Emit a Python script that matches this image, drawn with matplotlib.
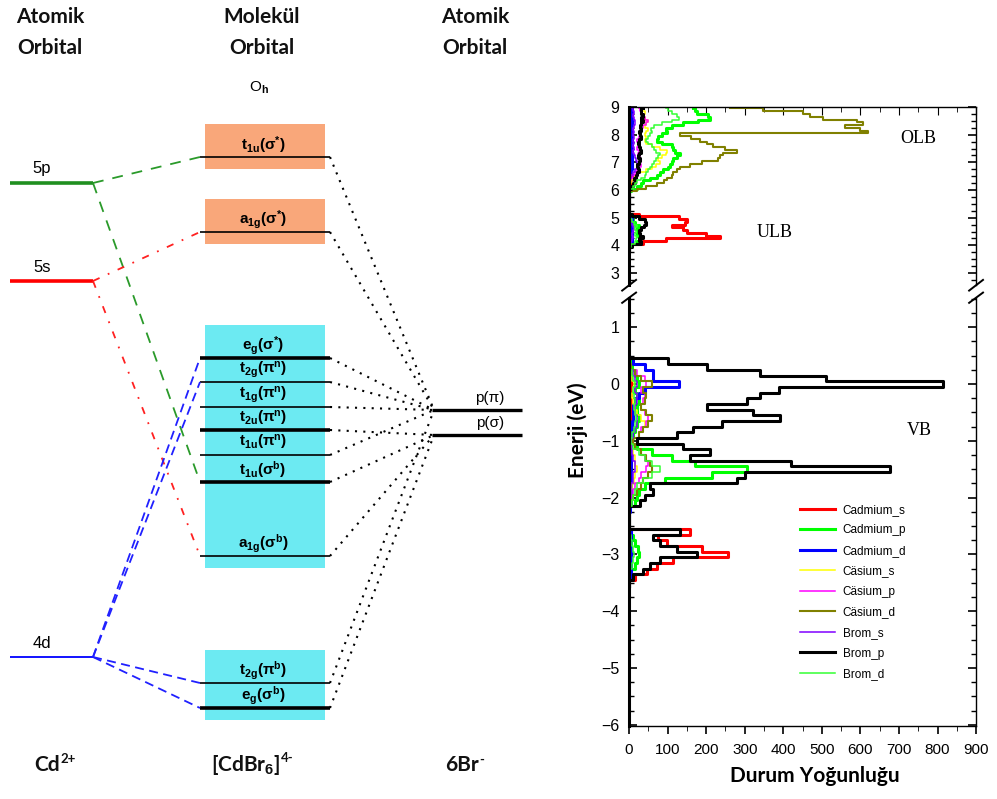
import numpy as np
import matplotlib
matplotlib.use('Agg')
import matplotlib.pyplot as plt
from matplotlib.patches import Rectangle
from matplotlib.ticker import MultipleLocator

plt.rcParams['mathtext.fontset'] = 'custom'
plt.rcParams['mathtext.rm'] = 'Liberation Sans'
plt.rcParams['mathtext.bf'] = 'Liberation Sans:bold'
plt.rcParams['mathtext.it'] = 'Liberation Sans:italic'

# ---------------- MO diagram (schematic levels, y grows downwards) ----------------
ao_names = ['5p', '5s', '4d']
ao_y = [183, 281, 657]
ao_colors = ['#1f8f1f', '#ff0000', '#0000ff']

mo_labels = [r't$_{\mathbf{1u}}$(σ$^{\mathbf{*}}$)', r'a$_{\mathbf{1g}}$(σ$^{\mathbf{*}}$)',
             r'e$_{\mathbf{g}}$(σ$^{\mathbf{*}}$)', r't$_{\mathbf{2g}}$(π$^{\mathbf{n}}$)',
             r't$_{\mathbf{1g}}$(π$^{\mathbf{n}}$)', r't$_{\mathbf{2u}}$(π$^{\mathbf{n}}$)',
             r't$_{\mathbf{1u}}$(π$^{\mathbf{n}}$)', r't$_{\mathbf{1u}}$(σ$^{\mathbf{b}}$)',
             r'a$_{\mathbf{1g}}$(σ$^{\mathbf{b}}$)', r't$_{\mathbf{2g}}$(π$^{\mathbf{b}}$)',
             r'e$_{\mathbf{g}}$(σ$^{\mathbf{b}}$)']
mo_y = [157, 232, 358, 382, 407, 430, 455, 482, 556, 683, 708]
mo_thick = [False, False, True, False, False, True, False, True, False, False, True]
mo_to_lig = [0, 0, 0, 0, 0, 1, 0, 1, 1, 0, 1]

lig_names = ['p(π)', 'p(σ)']
lig_y = [410, 435]

# metal AO -> MO correlations
ao_links = [(0, 0), (0, 7), (1, 1), (1, 8), (2, 2), (2, 3), (2, 9), (2, 10)]
# shaded groups of MOs (first, last, colour)
mo_boxes = [(0, 0, '#f9a77a'), (1, 1, '#f9a77a'), (2, 8, '#6ceaf2'), (9, 10, '#6ceaf2')]

# bottom species labels: (base, superscript)
species = [('Cd', '2+'), (r'[CdBr$_{\mathbf{6}}$]', '4-'), ('6Br', '-')]

# ---------------- DOS data (lower bin edges, 0.1 eV bins) ----------------
E_up = np.round(np.arange(3.85, 9.0, 0.1), 2)
E_lo = np.round(np.arange(-3.55, 0.5, 0.1), 2)

cd_s_up = [0, 5, 35, 95, 235, 200, 150, 140, 110, 145,
           150, 130, 25, 0, 0, 0, 0, 0, 0, 0,
           0, 0, 2, 3, 3, 4, 3, 4, 5, 4,
           5, 4, 5, 4, 3, 4, 5, 4, 3, 4,
           5, 4, 3, 4, 5, 4, 3, 4, 5, 4,
           3, 4]
cd_p_up = [0, 5, 20, 25, 30, 20, 25, 20, 25, 15,
           10, 5, 0, 0, 0, 0, 0, 0, 0, 0,
           0, 5, 20, 30, 36, 55, 72, 80, 88, 100,
           106, 110, 114, 125, 132, 120, 114, 110, 85, 72,
           75, 85, 98, 95, 110, 140, 180, 210, 205, 175,
           170, 166]
cd_d_up = [0, 6, 8, 8, 8, 8, 8, 8, 8, 8,
           8, 8, 0, 0, 0, 0, 0, 0, 0, 0,
           0, 0, 0, 0, 0, 0, 0, 0, 4, 8,
           8, 8, 8, 8, 8, 8, 8, 8, 8, 8,
           8, 8, 8, 8, 8, 8, 8, 8, 8, 8,
           8, 8]
cs_s_up = [0, 0, 0, 0, 0, 0, 0, 0, 0, 0,
           0, 0, 0, 0, 0, 0, 0, 0, 0, 0,
           0, 0, 0, 0, 5, 10, 15, 20, 45, 60,
           70, 80, 75, 85, 95, 98, 80, 60, 45, 40,
           45, 40, 45, 50, 40, 45, 50, 40, 35, 40,
           30, 25]
cs_p_up = [0, 0, 0, 0, 0, 0, 0, 0, 0, 0,
           0, 0, 0, 0, 0, 0, 0, 0, 0, 0,
           0, 0, 0, 0, 0, 5, 10, 15, 20, 25,
           30, 28, 25, 28, 22, 25, 20, 22, 25, 20,
           25, 30, 28, 32, 35, 45, 48, 42, 38, 30,
           28, 25]
cs_d_up = [0, 0, 0, 0, 0, 0, 0, 0, 0, 0,
           0, 0, 0, 0, 0, 0, 0, 0, 0, 0,
           0, 20, 45, 72, 90, 98, 110, 115, 125, 132,
           158, 190, 230, 236, 244, 279, 250, 218, 201, 184,
           160, 132, 620, 600, 560, 607, 590, 503, 470, 452,
           348, 262]
br_s_up = [0, 0, 5, 8, 10, 8, 10, 12, 10, 8,
           5, 0, 0, 0, 0, 0, 0, 0, 0, 0,
           0, 0, 0, 0, 0, 0, 5, 10, 15, 22,
           25, 20, 18, 15, 12, 10, 12, 10, 12, 10,
           12, 10, 12, 10, 12, 15, 15, 12, 10, 12,
           10, 8]
br_p_up = [0, 8, 30, 25, 35, 28, 25, 30, 38, 45,
           40, 25, 8, 0, 0, 0, 0, 0, 0, 0,
           0, 0, 5, 10, 15, 12, 18, 20, 25, 22,
           20, 25, 28, 22, 25, 30, 28, 25, 22, 25,
           30, 28, 25, 30, 28, 32, 35, 30, 35, 32,
           30, 35]
br_d_up = [0, 5, 15, 18, 20, 15, 18, 15, 20, 12,
           8, 3, 0, 0, 0, 0, 0, 0, 0, 0,
           0, 3, 10, 15, 20, 30, 40, 45, 50, 55,
           60, 65, 70, 75, 80, 70, 65, 60, 50, 45,
           50, 55, 60, 58, 65, 85, 110, 130, 125, 110,
           100, 95]

cd_s_lo = [0, 15, 47, 72, 114, 257, 190, 98, 75, 158,
           0, 0, 0, 0, 0, 0, 0, 0, 0, 0,
           0, 0, 0, 0, 0, 3, 5, 5, 6, 5,
           5, 4, 5, 6, 5, 4, 5, 4, 3, 0,
           0]
cd_p_lo = [0, 3, 5, 15, 20, 25, 22, 15, 10, 3,
           0, 0, 0, 0, 15, 20, 25, 40, 93, 215,
           305, 170, 110, 60, 20, 5, 10, 15, 20, 25,
           20, 20, 25, 20, 15, 25, 20, 15, 8, 2,
           0]
cd_d_lo = [0, 4, 4, 4, 4, 4, 4, 4, 4, 4,
           0, 0, 0, 3, 5, 5, 5, 5, 5, 5,
           5, 5, 5, 5, 5, 5, 8, 8, 8, 10,
           10, 10, 15, 25, 40, 130, 63, 63, 42, 10,
           0]
cs_s_lo = [0, 0, 0, 0, 0, 0, 0, 0, 0, 0,
           0, 0, 0, 0, 0, 0, 5, 8, 12, 15,
           20, 15, 15, 10, 5, 10, 25, 35, 40, 30,
           20, 15, 10, 8, 10, 12, 8, 5, 0, 0,
           0]
cs_p_lo = [0, 0, 0, 0, 0, 0, 0, 0, 0, 0,
           0, 0, 0, 0, 0, 5, 10, 15, 25, 30,
           45, 50, 40, 30, 15, 10, 25, 30, 45, 50,
           40, 30, 35, 40, 30, 45, 40, 20, 5, 0,
           0]
cs_d_lo = [0, 0, 0, 0, 0, 0, 0, 0, 0, 0,
           0, 0, 0, 0, 5, 10, 20, 30, 35, 50,
           60, 55, 45, 30, 15, 10, 25, 35, 50, 60,
           45, 30, 40, 45, 35, 60, 30, 15, 5, 0,
           0]
br_s_lo = [0, 0, 0, 0, 0, 0, 0, 0, 0, 0,
           0, 0, 0, 0, 0, 0, 5, 5, 10, 10,
           15, 15, 10, 8, 5, 5, 10, 15, 20, 20,
           15, 15, 20, 20, 15, 20, 15, 10, 0, 0,
           0]
br_p_lo = [0, 10, 37, 54, 80, 175, 124, 80, 63, 132,
           0, 0, 0, 0, 28, 41, 63, 54, 280, 300,
           676, 420, 158, 210, 140, 20, 124, 166, 240, 391,
           321, 201, 305, 340, 390, 814, 510, 339, 201, 100,
           0]
br_d_lo = [0, 0, 3, 8, 10, 12, 10, 8, 5, 0,
           0, 0, 0, 0, 8, 10, 15, 20, 35, 60,
           80, 60, 40, 25, 10, 5, 8, 12, 15, 18,
           15, 12, 15, 12, 10, 15, 10, 8, 3, 0,
           0]

series = [
    ('Cadmium_s', cd_s_up, cd_s_lo, '#ff0000', 2.2),
    ('Cadmium_p', cd_p_up, cd_p_lo, '#00ff00', 2.2),
    ('Cadmium_d', cd_d_up, cd_d_lo, '#0000ff', 2.2),
    ('Cäsium_s', cs_s_up, cs_s_lo, '#ffff00', 1.1),
    ('Cäsium_p', cs_p_up, cs_p_lo, '#ff00ff', 1.1),
    ('Cäsium_d', cs_d_up, cs_d_lo, '#808000', 1.5),
    ('Brom_s', br_s_up, br_s_lo, '#8000ff', 1.1),
    ('Brom_p', br_p_up, br_p_lo, '#000000', 2.2),
    ('Brom_d', br_d_up, br_d_lo, '#33ff33', 1.1),
]

fig = plt.figure(figsize=(9.97, 7.99), dpi=100)

# ---------- left: MO diagram ----------
ax0 = fig.add_axes([0, 0, 1, 1])
ax0.set_xlim(0, 997)
ax0.set_ylim(799, 0)
ax0.axis('off')

head = dict(family='Lato', weight='bold', fontsize=15, ha='center', va='center', color='#111111')
for xc, words in ((50, ('Atomik', 'Orbital')), (262, ('Molekül', 'Orbital')), (475, ('Atomik', 'Orbital'))):
    ax0.text(xc, 17, words[0], **head)
    ax0.text(xc, 48, words[1], **head)
ax0.text(259, 88, r'O$_{\mathbf{h}}$', family='Liberation Sans', fontsize=11, ha='center', va='center')

for first, last, col in mo_boxes:
    top = mo_y[first] - 33
    bot = mo_y[last] + 12
    ax0.add_patch(Rectangle((205, top), 120, bot - top, facecolor=col, edgecolor='none', zorder=0))

for name, y, col in zip(ao_names, ao_y, ao_colors):
    ax0.plot([10, 93], [y, y], color=col, lw=2.6 if name != '4d' else 1.3, solid_capstyle='butt')
    ax0.text(42, y - 14, name, family='Liberation Sans', fontsize=12, ha='center', va='center')

for lab, y, thick in zip(mo_labels, mo_y, mo_thick):
    ax0.plot([200, 330], [y, y], color='k', lw=2.6 if thick else 1.2, solid_capstyle='butt')
    ax0.text(263, y - 12, lab, family='Liberation Sans', weight='bold', fontsize=11,
             ha='center', va='center')

for name, y in zip(lig_names, lig_y):
    ax0.plot([432, 522], [y, y], color='k', lw=2.4, solid_capstyle='butt')
    ax0.text(490, y - 12, name, family='Liberation Sans', fontsize=11, ha='center', va='center')

link_style = {0: dict(color='#2a9a2a', ls=(0, (6, 5)), lw=1.3),
              1: dict(color='#ff2020', ls=(0, (4, 5, 1, 5)), lw=1.3),
              2: dict(color='#2020ff', ls=(0, (5, 3)), lw=1.3)}
for a, m in ao_links:
    ax0.plot([93, 200], [ao_y[a], mo_y[m]], **link_style[a])

for y, tgt in zip(mo_y, mo_to_lig):
    ax0.plot([330, 434], [y, lig_y[tgt]], color='k', ls=(0, (1, 3)), lw=1.5)

for (base, sup), xc in zip(species, (47, 246, 462)):
    t = ax0.text(xc, 765, base, family='Lato', weight='bold', fontsize=15, ha='center', va='center',
                 color='#111111')
    ax0.annotate(sup, xy=(1.0, 0.78), xycoords=t, xytext=(0.5, 0), textcoords='offset points',
                 family='Lato', weight='bold', fontsize=9.5, ha='left', va='center', color='#111111')

# ---------- right: DOS with broken energy axis ----------
ax_up = fig.add_axes([0.631, 0.643, 0.348, 0.223])
ax_lo = fig.add_axes([0.631, 0.0914, 0.348, 0.536])

for name, up, lo, col, lw in series:
    ax_up.plot(up, E_up, drawstyle='steps-pre', color=col, lw=lw)
    ax_lo.plot(lo, E_lo, drawstyle='steps-pre', color=col, lw=lw, label=name)

for ax in (ax_up, ax_lo):
    ax.set_xlim(0, 900)
    ax.xaxis.set_major_locator(MultipleLocator(100))
    ax.xaxis.set_minor_locator(MultipleLocator(50))
    ax.yaxis.set_major_locator(MultipleLocator(1))
    ax.yaxis.set_minor_locator(MultipleLocator(0.25))
    ax.tick_params(axis='y', which='both', left=True, right=True, direction='in', labelright=False,
                   labelsize=11.5, pad=7)
    ax.tick_params(axis='y', which='major', length=6, width=1.2)
    ax.tick_params(axis='y', which='minor', length=3.5, width=1.0)
    ax.spines['left'].set_linewidth(2.2)
    for s in ('right', 'top', 'bottom'):
        ax.spines[s].set_linewidth(1.0)

ax_up.set_ylim(2.56, 9.0)
ax_lo.set_ylim(-6.02, 1.52)
ax_up.spines['bottom'].set_visible(False)
ax_lo.spines['top'].set_visible(False)
ax_up.tick_params(axis='x', which='both', top=True, bottom=False, labelbottom=False, direction='in')
ax_up.tick_params(axis='x', which='major', length=6)
ax_up.tick_params(axis='x', which='minor', length=3.5)
ax_lo.tick_params(axis='x', which='both', top=False, bottom=True, direction='out', labelsize=11, pad=6)
ax_lo.tick_params(axis='x', which='major', length=6, width=1.2)
ax_lo.tick_params(axis='x', which='minor', length=3.5)
for t in ax_lo.get_xticklabels() + ax_lo.get_yticklabels() + ax_up.get_yticklabels():
    t.set_family('Liberation Sans')

# axis break marks
for ax, yb, dy in ((ax_up, 0.0, 0.03), (ax_lo, 1.0, 0.012)):
    for xb in (0.0, 1.0):
        ax.plot([xb - 0.02, xb + 0.02], [yb - dy, yb + dy],
                transform=ax.transAxes, color='k', lw=1.4, clip_on=False)

ax_up.text(749, 7.87, 'OLB', family='Liberation Serif', fontsize=13, ha='center', va='center')
ax_up.text(378, 4.46, 'ULB', family='Liberation Serif', fontsize=13, ha='center', va='center')
ax_lo.text(754, -0.81, 'VB', family='Liberation Serif', fontsize=13, ha='center', va='center')

fig.text(578 / 997, 1 - 430 / 799, 'Enerji (eV)', family='Lato', weight='bold', fontsize=15,
         rotation=90, ha='center', va='center')
fig.text(815 / 997, 1 - 776 / 799, 'Durum Yoğunluğu', family='Lato', weight='bold', fontsize=15,
         ha='center', va='center')

ax_lo.legend(loc='upper left', bbox_to_anchor=(800 / 997, 1 - 504 / 799), bbox_transform=fig.transFigure,
             frameon=False, prop={'family': 'Liberation Sans', 'size': 8.5}, handlelength=3.0,
             handletextpad=0.6, labelspacing=0.72, borderpad=0, borderaxespad=0)

fig.savefig('out.png', dpi=100)
